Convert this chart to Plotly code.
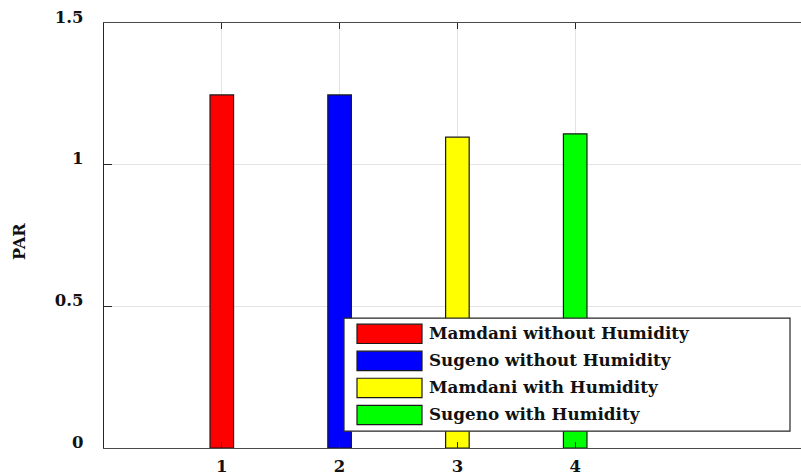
import plotly.graph_objects as go

# Data
series_names = ["Mamdani without Humidity", "Sugeno without Humidity",
                "Mamdani with Humidity", "Sugeno with Humidity"]
x_positions = [1, 2, 3, 4]
par_values = [1.246, 1.246, 1.097, 1.109]
colors = ["#ff0000", "#0000ff", "#ffff00", "#00ff00"]
y_ticks = [0, 0.5, 1, 1.5]
y_tick_labels = ["0", "0.5", "1", "1.5"]
x_ticks = [1, 2, 3, 4]
y_title = "PAR"

W, H = 801, 476
ML, MR, MT, MB = 104, 0, 23, 24
PW = W - ML - MR
PH = H - MT - MB

def px(xp):
    return (xp - ML) / PW

def py(yp):
    return (H - MB - yp) / PH

FONT = "DejaVu Serif"
TXT = "#111111"

fig = go.Figure()
fig.add_trace(go.Bar(
    x=x_positions, y=par_values, width=0.2,
    marker=dict(color=colors, line=dict(color="#1a1a1a", width=1.2)),
    showlegend=False, hoverinfo="skip",
))

shapes = []
annotations = []
# legend box
shapes.append(dict(type="rect", xref="paper", yref="paper",
                   x0=px(344), x1=px(790), y0=py(435), y1=py(321),
                   line=dict(color="#262626", width=1.2), fillcolor="white", layer="above"))
for i, (name, c) in enumerate(zip(series_names, colors)):
    top = 327 + i * 27.3
    shapes.append(dict(type="rect", xref="paper", yref="paper",
                       x0=px(357), x1=px(422), y0=py(top + 19.5), y1=py(top),
                       line=dict(color="#1a1a1a", width=1.2), fillcolor=c, layer="above"))
    annotations.append(dict(xref="paper", yref="paper", x=px(427), y=py(top + 8.5),
                            text=name, showarrow=False, xanchor="left", yanchor="middle",
                            font=dict(family=FONT, size=16.8, color=TXT, weight="bold")))

# y-axis title
annotations.append(dict(xref="paper", yref="paper", x=px(20), y=py(244),
                        text=y_title, textangle=-90, showarrow=False,
                        xanchor="center", yanchor="middle",
                        font=dict(family=FONT, size=16, color=TXT, weight="bold")))

fig.update_layout(
    width=W, height=H,
    margin=dict(l=ML, r=MR, t=MT, b=MB),
    plot_bgcolor="white", paper_bgcolor="white",
    shapes=shapes, annotations=annotations,
    showlegend=False,
    xaxis=dict(range=[0, PW / 117.8], tickvals=x_ticks, ticktext=[str(v) for v in x_ticks],
               showgrid=True, gridcolor="#e3e3e3", gridwidth=1,
               showline=True, linecolor="#4a4a4a", linewidth=1.4, mirror="ticks",
               ticks="inside", ticklen=6, tickcolor="#262626",
               ticklabelstandoff=3,
               tickfont=dict(family=FONT, size=16.5, color=TXT, weight="bold"),
               zeroline=False, fixedrange=True),
    yaxis=dict(range=[0, 1.5], tickvals=y_ticks, ticktext=y_tick_labels,
               showgrid=True, gridcolor="#e3e3e3", gridwidth=1,
               showline=True, linecolor="#262626", linewidth=1.3,
               ticks="inside", ticklen=8, tickcolor="#262626",
               ticklabelstandoff=16, ticklabelshift=-6,
               tickfont=dict(family=FONT, size=16.5, color=TXT, weight="bold"),
               zeroline=False, fixedrange=True),
)

fig.write_html("out.html", config={"displayModeBar": False},
               post_script="document.body.style.margin='0';document.body.style.overflow='hidden';")
